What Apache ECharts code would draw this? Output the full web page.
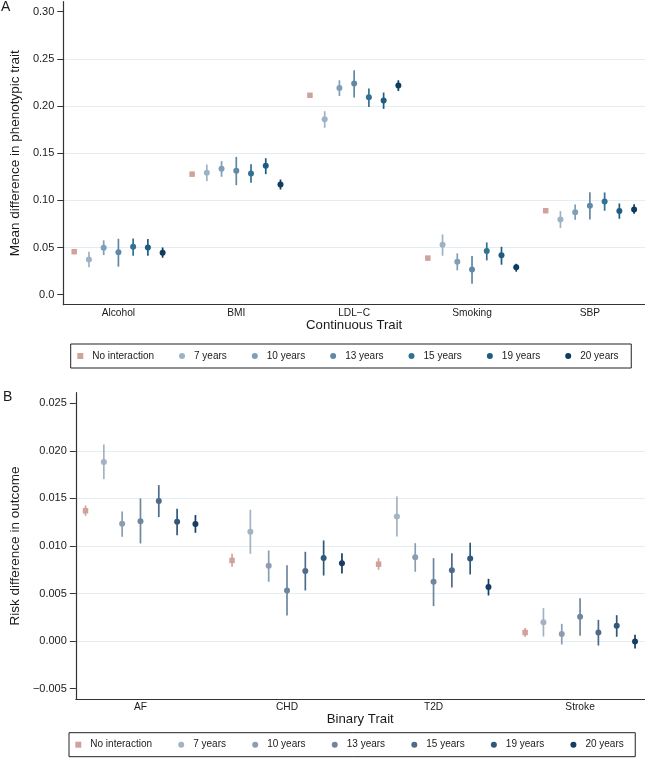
<!DOCTYPE html>
<html><head><meta charset="utf-8">
<script src="https://cdn.jsdelivr.net/npm/echarts@6/dist/echarts.min.js"></script>
<style>html,body{margin:0;padding:0;background:#fff}#c{width:645px;height:765px}</style>
</head><body><div id="c"></div>
<script>
// ---------- data ----------
const groups = ['No interaction', '7 years', '10 years', '13 years', '15 years', '19 years', '20 years'];
const catsA = ['Alcohol', 'BMI', 'LDL\u2212C', 'Smoking', 'SBP'];
const catsB = ['AF', 'CHD', 'T2D', 'Stroke'];
const ticksA = [0, 0.05, 0.10, 0.15, 0.20, 0.25, 0.30];
const tickLabelsA = ['0.0', '0.05', '0.10', '0.15', '0.20', '0.25', '0.30'];
const ticksB = [-0.005, 0, 0.005, 0.010, 0.015, 0.020, 0.025];
const tickLabelsB = ['\u22120.005', '0.000', '0.005', '0.010', '0.015', '0.020', '0.025'];

// Panel A: [estimate, lower, upper] per trait (Alcohol, BMI, LDL-C, Smoking, SBP)
const A_none = [[0.0456, 0.0448, 0.0464], [0.1278, 0.1270, 0.1286], [0.2114, 0.2106, 0.2122], [0.0388, 0.0380, 0.0396], [0.0890, 0.0882, 0.0898]];
const A_7y  = [[0.0374, 0.0290, 0.0456], [0.1292, 0.1204, 0.1380], [0.1860, 0.1769, 0.1945], [0.0530, 0.0413, 0.0639], [0.0798, 0.0706, 0.0886]];
const A_10y = [[0.0498, 0.0420, 0.0576], [0.1334, 0.1250, 0.1416], [0.2192, 0.2107, 0.2273], [0.0350, 0.0258, 0.0438], [0.0875, 0.0794, 0.0957]];
const A_13y = [[0.0449, 0.0297, 0.0593], [0.1313, 0.1161, 0.1461], [0.2238, 0.2090, 0.2379], [0.0268, 0.0116, 0.0410], [0.0943, 0.0798, 0.1087]];
const A_15y = [[0.0508, 0.0413, 0.0597], [0.1285, 0.1186, 0.1384], [0.2093, 0.1991, 0.2185], [0.0462, 0.0364, 0.0554], [0.0988, 0.0890, 0.1084]];
const A_19y = [[0.0501, 0.0413, 0.0590], [0.1366, 0.1278, 0.1447], [0.2058, 0.1970, 0.2143], [0.0417, 0.0318, 0.0508], [0.0886, 0.0805, 0.0967]];
const A_20y = [[0.0445, 0.0392, 0.0501], [0.1168, 0.1115, 0.1221], [0.2217, 0.2160, 0.2273], [0.0290, 0.0244, 0.0328], [0.0904, 0.0858, 0.0960]];

// Panel B: [estimate, lower, upper] per outcome (AF, CHD, T2D, Stroke)
const B_none = [[0.01370, 0.01317, 0.01426], [0.00848, 0.00781, 0.00918], [0.00809, 0.00750, 0.00872], [0.00091, 0.00046, 0.00137]];
const B_7y  = [[0.01882, 0.01703, 0.02067], [0.01149, 0.00918, 0.01381], [0.01310, 0.01100, 0.01521], [0.00200, 0.00049, 0.00347]];
const B_10y = [[0.01233, 0.01097, 0.01363], [0.00792, 0.00624, 0.00953], [0.00883, 0.00729, 0.01030], [0.00074, -0.00035, 0.00182]];
const B_13y = [[0.01261, 0.01027, 0.01500], [0.00533, 0.00270, 0.00799], [0.00624, 0.00368, 0.00872], [0.00256, 0.00056, 0.00452]];
const B_15y = [[0.01472, 0.01304, 0.01640], [0.00736, 0.00533, 0.00939], [0.00746, 0.00564, 0.00925], [0.00091, -0.00046, 0.00224]];
const B_19y = [[0.01254, 0.01114, 0.01391], [0.00873, 0.00690, 0.01058], [0.00869, 0.00701, 0.01034], [0.00161, 0.00046, 0.00273]];
const B_20y = [[0.01230, 0.01139, 0.01325], [0.00820, 0.00711, 0.00925], [0.00568, 0.00480, 0.00655], [-0.00004, -0.00077, 0.00067]];

// ---------- style ----------
const paletteA = ['#cfa39c', '#9db2c4', '#7f9fb6', '#6189a5', '#317191', '#1f5c81', '#0d3c5f'];
const paletteB = ['#cfa39c', '#a3b3c3', '#8a9db1', '#6f869f', '#4f6b89', '#325879', '#163e62'];
const FONT = 'Liberation Sans, Arial, Helvetica, sans-serif';
const TXT = '#1a1a1a';
const SPREAD = 0.125;
const SQUARE = 'path://M0,0L10,0L10,10L0,10Z';

const series = [];
function addPanel(idx, arrs, palette) {
  arrs.forEach((arr, gi) => {
    const off = (gi - 3) * SPREAD;
    series.push({
      type: 'custom', name: groups[gi], xAxisIndex: idx, yAxisIndex: idx, z: 2, silent: true,
      renderItem: (params, api) => {
        const x = api.value(0);
        const p1 = api.coord([x, api.value(1)]);
        const p2 = api.coord([x, api.value(2)]);
        return { type: 'line', shape: { x1: p1[0], y1: p1[1], x2: p2[0], y2: p2[1] },
                 style: { stroke: palette[gi], lineWidth: 1.7 } };
      },
      encode: { x: 0, y: [1, 2] },
      data: arr.map((d, ci) => [ci + 1 + off, d[1], d[2]])
    });
  });
  arrs.forEach((arr, gi) => {
    const off = (gi - 3) * SPREAD;
    series.push({
      type: 'scatter', name: groups[gi], xAxisIndex: idx, yAxisIndex: idx, z: 3, silent: true,
      symbol: gi === 0 ? 'rect' : 'circle', symbolSize: gi === 0 ? 5.5 : 6,
      itemStyle: { color: palette[gi], opacity: 1 },
      data: arr.map((d, ci) => [ci + 1 + off, d[0]])
    });
  });
}
addPanel(0, [A_none, A_7y, A_10y, A_13y, A_15y, A_19y, A_20y], paletteA);
addPanel(1, [B_none, B_7y, B_10y, B_13y, B_15y, B_19y, B_20y], paletteB);

function yAxis(idx, min, max, ticks, labels, name, nameGap) {
  return {
    type: 'value', gridIndex: idx, min: min, max: max,
    name: name, nameLocation: 'middle', nameGap: nameGap,
    nameTextStyle: { fontSize: 13.5, color: TXT, fontFamily: FONT },
    axisLine: { show: true, onZero: false, lineStyle: { color: '#333', width: 1.2 } },
    axisTick: { show: true, length: 6, customValues: ticks, lineStyle: { color: '#333', width: 1 } },
    axisLabel: { customValues: ticks, fontSize: 11, color: TXT, fontFamily: FONT, margin: 9,
      formatter: v => { const i = ticks.findIndex(t => Math.abs(t - v) < 1e-9); return i >= 0 ? labels[i] : ''; } },
    splitLine: { show: true, showMinLine: false, showMaxLine: false, lineStyle: { color: '#e3edf2', width: 1.2 } }
  };
}
function xAxis(idx, min, max, cats, name, nameGap) {
  const vals = cats.map((c, i) => i + 1);
  return {
    type: 'value', gridIndex: idx, min: min, max: max,
    name: name, nameLocation: 'middle', nameGap: nameGap,
    nameTextStyle: { fontSize: 13.2, color: TXT, fontFamily: FONT },
    axisLine: { show: true, onZero: false, lineStyle: { color: '#333', width: 1.2 } },
    axisTick: { show: false },
    splitLine: { show: false },
    axisLabel: { customValues: vals, fontSize: 10.2, color: TXT, fontFamily: FONT, margin: 3,
      formatter: v => cats[Math.round(v) - 1] || '' }
  };
}
function legend(left, top, gap, palette, pad) {
  return {
    left: left, top: top, orient: 'horizontal', itemWidth: 14, itemHeight: 6, itemGap: gap,
    padding: pad, borderColor: '#222', borderWidth: 1, borderRadius: 0,
    selectedMode: false, symbolKeepAspect: true,
    textStyle: { fontSize: 10, color: TXT, fontFamily: FONT, lineHeight: 12 },
    data: groups.map((g, i) => ({ name: g, icon: i === 0 ? SQUARE : 'circle', itemStyle: { color: palette[i] } }))
  };
}

const chart = echarts.init(document.getElementById('c'), null, { renderer: 'canvas' });
chart.setOption({
  animation: false,
  backgroundColor: '#fff',
  textStyle: { fontFamily: FONT },
  title: [
    { text: 'A', left: 1, top: 0, padding: 0, textStyle: { fontSize: 14, fontWeight: 'normal', color: TXT, fontFamily: FONT } },
    { text: 'B', left: 3, top: 390, padding: 0, textStyle: { fontSize: 14, fontWeight: 'normal', color: TXT, fontFamily: FONT } }
  ],
  grid: [
    { left: 57, top: 1.7, width: 588, height: 303 },
    { left: 60.7, top: 392.7, width: 584, height: 306.6 }
  ],
  xAxis: [
    xAxis(0, 0.5325, 5.4675, catsA, 'Continuous Trait', 14),
    xAxis(1, 0.559, 4.441, catsB, 'Binary Trait', 14)
  ],
  yAxis: [
    yAxis(0, -0.0106, 0.3106, ticksA, tickLabelsA, 'Mean difference in phenotypic trait', 36),
    yAxis(1, -0.00611, 0.02611, ticksB, tickLabelsB, 'Risk difference in outcome', 52)
  ],
  legend: [
    legend(70.7, 344, 25, paletteA, [6, 12.7, 6, 6.6]),
    legend(69, 732.7, 26.2, paletteB, [6, 11.5, 6, 6.3])
  ],
  series: series
});
</script>
</body></html>
